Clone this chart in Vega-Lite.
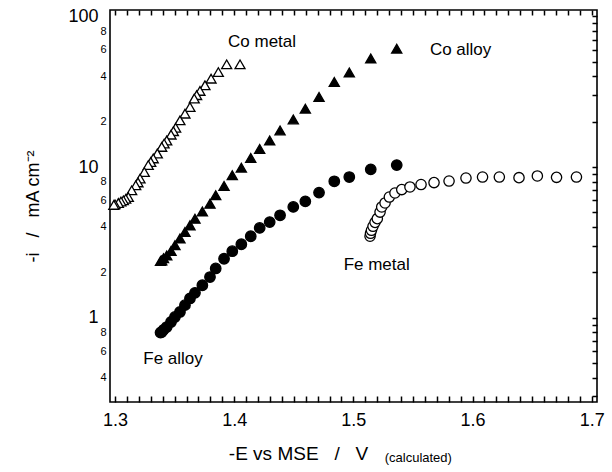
{
  "$schema": "https://vega.github.io/schema/vega-lite/v6.json",
  "width": 487,
  "height": 392,
  "autosize": {"type": "none"},
  "padding": {"left": 110, "top": 10, "right": 15, "bottom": 70},
  "background": "white",
  "config": {
    "view": {"stroke": "black", "strokeWidth": 1.6},
    "font": "Liberation Sans",
    "axis": {"labelColor": "black", "titleColor": "black", "tickColor": "black", "grid": false, "domain": false, "labelOverlap": false, "labelBound": false, "labelFlush": false, "titleFontWeight": "normal"}
  },
  "datasets": {
    "pts": [
      {"series": "Co metal", "E": 1.4049, "i": 48.1},
      {"series": "Co metal", "E": 1.3937, "i": 48.1},
      {"series": "Co metal", "E": 1.3867, "i": 42.7},
      {"series": "Co metal", "E": 1.3806, "i": 38.6},
      {"series": "Co metal", "E": 1.3755, "i": 34.9},
      {"series": "Co metal", "E": 1.3713, "i": 32.0},
      {"series": "Co metal", "E": 1.3685, "i": 30.0},
      {"series": "Co metal", "E": 1.3665, "i": 28.5},
      {"series": "Co metal", "E": 1.3629, "i": 25.0},
      {"series": "Co metal", "E": 1.3587, "i": 22.6},
      {"series": "Co metal", "E": 1.3545, "i": 20.4},
      {"series": "Co metal", "E": 1.3509, "i": 18.2},
      {"series": "Co metal", "E": 1.3490, "i": 17.3},
      {"series": "Co metal", "E": 1.3470, "i": 16.4},
      {"series": "Co metal", "E": 1.3434, "i": 15.0},
      {"series": "Co metal", "E": 1.3412, "i": 14.3},
      {"series": "Co metal", "E": 1.3392, "i": 13.6},
      {"series": "Co metal", "E": 1.3355, "i": 12.3},
      {"series": "Co metal", "E": 1.3321, "i": 11.4},
      {"series": "Co metal", "E": 1.3300, "i": 10.8},
      {"series": "Co metal", "E": 1.3279, "i": 10.3},
      {"series": "Co metal", "E": 1.3246, "i": 9.26},
      {"series": "Co metal", "E": 1.3210, "i": 8.38},
      {"series": "Co metal", "E": 1.3193, "i": 7.9},
      {"series": "Co metal", "E": 1.3174, "i": 7.56},
      {"series": "Co metal", "E": 1.3140, "i": 7.0},
      {"series": "Co metal", "E": 1.3112, "i": 6.32},
      {"series": "Co metal", "E": 1.3090, "i": 6.15},
      {"series": "Co metal", "E": 1.3070, "i": 6.01},
      {"series": "Co metal", "E": 1.3050, "i": 5.9},
      {"series": "Co metal", "E": 1.3028, "i": 5.77},
      {"series": "Co metal", "E": 1.3000, "i": 5.65},
      {"series": "Co metal", "E": 1.2990, "i": 5.6},
      {"series": "Co alloy", "E": 1.5364, "i": 61.1},
      {"series": "Co alloy", "E": 1.5146, "i": 52.5},
      {"series": "Co alloy", "E": 1.4966, "i": 42.4},
      {"series": "Co alloy", "E": 1.4840, "i": 36.7},
      {"series": "Co alloy", "E": 1.4712, "i": 29.2},
      {"series": "Co alloy", "E": 1.4597, "i": 24.4},
      {"series": "Co alloy", "E": 1.4496, "i": 20.7},
      {"series": "Co alloy", "E": 1.4385, "i": 17.5},
      {"series": "Co alloy", "E": 1.4298, "i": 15.0},
      {"series": "Co alloy", "E": 1.4214, "i": 13.2},
      {"series": "Co alloy", "E": 1.4139, "i": 11.5},
      {"series": "Co alloy", "E": 1.4060, "i": 9.91},
      {"series": "Co alloy", "E": 1.3984, "i": 8.81},
      {"series": "Co alloy", "E": 1.3915, "i": 7.48},
      {"series": "Co alloy", "E": 1.3845, "i": 6.49},
      {"series": "Co alloy", "E": 1.3797, "i": 5.70},
      {"series": "Co alloy", "E": 1.3733, "i": 5.06},
      {"series": "Co alloy", "E": 1.3671, "i": 4.53},
      {"series": "Co alloy", "E": 1.3629, "i": 4.10},
      {"series": "Co alloy", "E": 1.3587, "i": 3.70},
      {"series": "Co alloy", "E": 1.3545, "i": 3.35},
      {"series": "Co alloy", "E": 1.3503, "i": 3.02},
      {"series": "Co alloy", "E": 1.3470, "i": 2.77},
      {"series": "Co alloy", "E": 1.3434, "i": 2.59},
      {"series": "Co alloy", "E": 1.3407, "i": 2.48},
      {"series": "Co alloy", "E": 1.3392, "i": 2.40},
      {"series": "Co alloy", "E": 1.3382, "i": 2.38},
      {"series": "Fe alloy", "E": 1.5364, "i": 10.3},
      {"series": "Fe alloy", "E": 1.5146, "i": 9.65},
      {"series": "Fe alloy", "E": 1.4966, "i": 8.58},
      {"series": "Fe alloy", "E": 1.4840, "i": 8.04},
      {"series": "Fe alloy", "E": 1.4712, "i": 6.76},
      {"series": "Fe alloy", "E": 1.4597, "i": 5.92},
      {"series": "Fe alloy", "E": 1.4496, "i": 5.43},
      {"series": "Fe alloy", "E": 1.4385, "i": 4.78},
      {"series": "Fe alloy", "E": 1.4298, "i": 4.31},
      {"series": "Fe alloy", "E": 1.4214, "i": 3.94},
      {"series": "Fe alloy", "E": 1.4139, "i": 3.47},
      {"series": "Fe alloy", "E": 1.4060, "i": 3.07},
      {"series": "Fe alloy", "E": 1.3984, "i": 2.76},
      {"series": "Fe alloy", "E": 1.3915, "i": 2.46},
      {"series": "Fe alloy", "E": 1.3845, "i": 2.12},
      {"series": "Fe alloy", "E": 1.3797, "i": 1.86},
      {"series": "Fe alloy", "E": 1.3733, "i": 1.64},
      {"series": "Fe alloy", "E": 1.3671, "i": 1.46},
      {"series": "Fe alloy", "E": 1.3629, "i": 1.34},
      {"series": "Fe alloy", "E": 1.3587, "i": 1.21},
      {"series": "Fe alloy", "E": 1.3545, "i": 1.09},
      {"series": "Fe alloy", "E": 1.3503, "i": 1.01},
      {"series": "Fe alloy", "E": 1.3470, "i": 0.935},
      {"series": "Fe alloy", "E": 1.3434, "i": 0.866},
      {"series": "Fe alloy", "E": 1.3407, "i": 0.83},
      {"series": "Fe alloy", "E": 1.3392, "i": 0.802},
      {"series": "Fe alloy", "E": 1.3382, "i": 0.795},
      {"series": "Fe metal", "E": 1.5140, "i": 3.47},
      {"series": "Fe metal", "E": 1.5144, "i": 3.63},
      {"series": "Fe metal", "E": 1.5152, "i": 3.80},
      {"series": "Fe metal", "E": 1.5165, "i": 4.04},
      {"series": "Fe metal", "E": 1.5182, "i": 4.29},
      {"series": "Fe metal", "E": 1.5201, "i": 4.54},
      {"series": "Fe metal", "E": 1.5224, "i": 5.02},
      {"series": "Fe metal", "E": 1.5238, "i": 5.43},
      {"series": "Fe metal", "E": 1.5266, "i": 5.77},
      {"series": "Fe metal", "E": 1.5302, "i": 6.32},
      {"series": "Fe metal", "E": 1.5349, "i": 6.72},
      {"series": "Fe metal", "E": 1.5406, "i": 7.08},
      {"series": "Fe metal", "E": 1.5475, "i": 7.37},
      {"series": "Fe metal", "E": 1.5568, "i": 7.65},
      {"series": "Fe metal", "E": 1.5677, "i": 7.88},
      {"series": "Fe metal", "E": 1.5803, "i": 8.07},
      {"series": "Fe metal", "E": 1.5945, "i": 8.45},
      {"series": "Fe metal", "E": 1.6084, "i": 8.58},
      {"series": "Fe metal", "E": 1.6225, "i": 8.58},
      {"series": "Fe metal", "E": 1.6390, "i": 8.50},
      {"series": "Fe metal", "E": 1.6544, "i": 8.72},
      {"series": "Fe metal", "E": 1.6705, "i": 8.54},
      {"series": "Fe metal", "E": 1.6872, "i": 8.58}
    ],
    "notes": [
      {"label": "Co metal", "E": 1.4234, "i": 67.3},
      {"label": "Co alloy", "E": 1.590, "i": 59.6},
      {"label": "Fe metal", "E": 1.5196, "i": 2.24},
      {"label": "Fe alloy", "E": 1.3487, "i": 0.528}
    ],
    "calc": [
      {"label": "(calculated)", "E": 1.5545, "i": 0.1173}
    ]
  },
  "layer": [
    {
      "data": {"name": "pts"},
      "mark": {"type": "point", "filled": true, "stroke": "black", "strokeWidth": 1.3, "opacity": 1},
      "encoding": {
        "x": {
          "field": "E", "type": "quantitative",
          "scale": {"domain": [1.2958, 1.70445], "nice": false, "zero": false},
          "axis": {
            "orient": "bottom",
            "values": [1.3, 1.31, 1.32, 1.33, 1.34, 1.35, 1.36, 1.37, 1.38, 1.39, 1.4, 1.41, 1.42, 1.43, 1.44, 1.45, 1.46, 1.47, 1.48, 1.49, 1.5, 1.51, 1.52, 1.53, 1.54, 1.55, 1.56, 1.57, 1.58, 1.59, 1.6, 1.61, 1.62, 1.63, 1.64, 1.65, 1.66, 1.67, 1.68, 1.69, 1.7],
            "labelExpr": "abs(datum.value*10 - round(datum.value*10)) < 0.000001 ? format(datum.value, '.1f') : ''",
            "ticks": true, "tickSize": -6, "tickWidth": 1.5,
            "labelFontSize": 18, "labelPadding": 15,
            "title": "-E vs MSE\u00a0\u00a0\u00a0/\u00a0\u00a0\u00a0V", "titleFontSize": 19, "titlePadding": 15, "titleX": 188
          }
        },
        "y": {
          "field": "i", "type": "quantitative",
          "scale": {"type": "log", "domain": [0.2752, 110.3], "nice": false, "zero": false},
          "axis": {
            "orient": "left",
            "values": [0.3, 0.4, 0.5, 0.6, 0.7, 0.8, 0.9, 1, 2, 3, 4, 5, 6, 7, 8, 9, 10, 20, 30, 40, 50, 60, 70, 80, 90, 100],
            "ticks": false,
            "labelExpr": "indexof([1,10,100], datum.value) >= 0 ? format(datum.value, 'd') : (indexof([0.4,0.6,0.8,2,4,6,8,20,40,60,80], datum.value) >= 0 ? substring(format(datum.value, '.0e'), 0, 1) : '')",
            "labelFontSize": {"condition": {"test": "indexof([1,10,100], datum.value) >= 0", "value": 18}, "value": 11},
            "labelPadding": {"condition": {"test": "indexof([1,10,100], datum.value) >= 0", "value": 12}, "value": 4},
            "title": "-i\u00a0\u00a0\u00a0/\u00a0\u00a0\u00a0mA cm\u207b\u00b2", "titleFontSize": 18, "titlePadding": 25
          }
        },
        "shape": {"field": "series", "type": "nominal", "scale": {"domain": ["Co metal", "Co alloy", "Fe metal", "Fe alloy"], "range": ["triangle-up", "triangle-up", "circle", "circle"]}, "legend": null},
        "fill": {"field": "series", "type": "nominal", "scale": {"domain": ["Co metal", "Co alloy", "Fe metal", "Fe alloy"], "range": ["white", "black", "white", "black"]}, "legend": null},
        "size": {"field": "series", "type": "nominal", "scale": {"domain": ["Co metal", "Co alloy", "Fe metal", "Fe alloy"], "range": [100, 110, 78, 95]}, "legend": null}
      }
    },
    {
      "data": {"name": "notes"},
      "mark": {"type": "text", "fontSize": 17, "color": "black", "align": "center", "baseline": "middle"},
      "encoding": {
        "text": {"field": "label"},
        "x": {
          "field": "E", "type": "quantitative",
          "scale": {"domain": [1.2958, 1.70445], "nice": false, "zero": false},
          "axis": {
            "orient": "top",
            "values": [1.3, 1.31, 1.32, 1.33, 1.34, 1.35, 1.36, 1.37, 1.38, 1.39, 1.4, 1.41, 1.42, 1.43, 1.44, 1.45, 1.46, 1.47, 1.48, 1.49, 1.5, 1.51, 1.52, 1.53, 1.54, 1.55, 1.56, 1.57, 1.58, 1.59, 1.6, 1.61, 1.62, 1.63, 1.64, 1.65, 1.66, 1.67, 1.68, 1.69, 1.7],
            "labels": false, "title": null, "ticks": true, "tickSize": -5, "tickWidth": 1.5
          }
        },
        "y": {
          "field": "i", "type": "quantitative",
          "scale": {"type": "log", "domain": [0.2752, 110.3], "nice": false, "zero": false},
          "axis": {
            "orient": "right",
            "values": [0.3, 0.4, 0.5, 0.6, 0.7, 0.8, 0.9, 1, 2, 3, 4, 5, 6, 7, 8, 9, 10, 20, 30, 40, 50, 60, 70, 80, 90, 100],
            "labels": false, "title": null, "ticks": true, "tickSize": -5, "tickWidth": 1.5
          }
        }
      }
    },
    {
      "data": {"name": "calc"},
      "mark": {"type": "text", "fontSize": 13, "color": "black", "align": "center", "baseline": "middle"},
      "encoding": {
        "text": {"field": "label"},
        "x": {"field": "E", "type": "quantitative", "scale": {"domain": [1.2958, 1.70445], "nice": false, "zero": false}, "axis": null},
        "y": {"field": "i", "type": "quantitative", "scale": {"type": "log", "domain": [0.2752, 110.3], "nice": false, "zero": false}, "axis": null}
      }
    }
  ],
  "resolve": {
    "scale": {"x": "independent", "y": "independent"},
    "axis": {"x": "independent", "y": "independent"}
  }
}
